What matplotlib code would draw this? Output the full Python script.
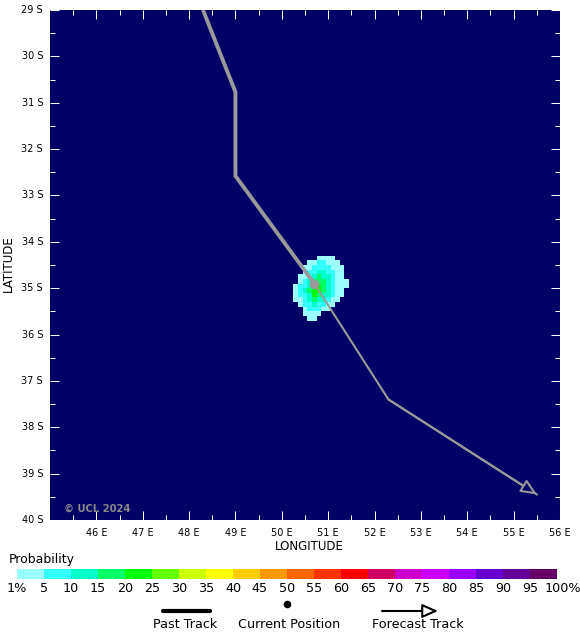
import numpy as np
import matplotlib
matplotlib.use('Agg')
import matplotlib.pyplot as plt
from matplotlib.colors import ListedColormap, BoundaryNorm
from matplotlib.cm import ScalarMappable
from matplotlib.transforms import ScaledTranslation

# 1. DATA
past_lon = [48.3, 49.0, 49.0, 50.7]
past_lat = [29.0, 30.77, 32.58, 34.9]
forecast_lon = [50.7, 52.3, 55.5]
forecast_lat = [34.9, 37.4, 39.45]
current_lon = 50.7
current_lat = 34.9

levels = [1, 5, 10, 15, 20, 25, 30, 35, 40, 45, 50, 55, 60, 65, 70, 75, 80, 85, 90, 95, 100]
level_labels = ['1%'] + [str(v) for v in levels[1:-1]] + ['100%']
level_colors = ['#99ffff', '#33ffff', '#00ffcc', '#00ff66', '#00ff00', '#66ff00', '#ccff00',
                '#ffff00', '#ffcc00', '#ff9900', '#ff6600', '#ff3300', '#ff0000', '#cc0066',
                '#cc00cc', '#cc00ff', '#9900ff', '#6600cc', '#660099', '#660066']

# strike probability, 0.1 degree cells
grid_lon = np.arange(50.25, 51.5, 0.1)
grid_lat = np.arange(34.3, 35.75, 0.1)
prob = np.array([
    [0, 0, 0, 0, 0, 3, 3, 3, 3, 0, 0, 0],
    [0, 0, 0, 3, 3, 7, 7, 3, 3, 3, 0, 0],
    [0, 0, 3, 3, 7, 7, 7, 7, 3, 3, 3, 0],
    [0, 0, 3, 7, 7, 12, 12, 7, 7, 3, 3, 0],
    [0, 3, 3, 7, 12, 17, 12, 12, 7, 3, 3, 0],
    [0, 3, 7, 12, 17, 17, 17, 12, 7, 3, 3, 3],
    [3, 7, 7, 12, 22, 22, 17, 12, 7, 3, 3, 3],
    [3, 7, 12, 17, 22, 22, 17, 12, 7, 3, 3, 0],
    [3, 7, 7, 12, 22, 17, 12, 12, 7, 3, 3, 0],
    [3, 3, 7, 12, 17, 12, 12, 7, 3, 3, 0, 0],
    [0, 3, 7, 7, 12, 7, 7, 3, 3, 0, 0, 0],
    [0, 0, 3, 7, 7, 7, 3, 3, 0, 0, 0, 0],
    [0, 0, 3, 3, 3, 3, 0, 0, 0, 0, 0, 0],
    [0, 0, 0, 3, 3, 0, 0, 0, 0, 0, 0, 0],
], dtype=float)

NAVY = '#000066'
GREY = '#999999'
W, H = 580, 639


def px_box(left, top, right, bottom):
    return [left / W, (H - bottom) / H, (right - left) / W, (bottom - top) / H]


# 2. MAP
fig = plt.figure(figsize=(W / 100, H / 100), dpi=100)
ax = fig.add_axes(px_box(50, 10, 560, 520))
ax.set_facecolor(NAVY)

cmap = ListedColormap(level_colors)
norm = BoundaryNorm(levels, cmap.N)
ax.pcolormesh(grid_lon, grid_lat, np.ma.masked_less(prob, 1), cmap=cmap, norm=norm)

ax.plot(past_lon, past_lat, color=GREY, lw=2.8, solid_joinstyle='miter', solid_capstyle='butt')
ax.plot(forecast_lon, forecast_lat, color=GREY, lw=1.5, solid_joinstyle='miter')
ax.annotate('', xy=(forecast_lon[-1], forecast_lat[-1]), xytext=(forecast_lon[-2], forecast_lat[-2]),
            arrowprops=dict(arrowstyle='-|>,head_length=0.95,head_width=0.42', edgecolor=GREY, lw=1.5,
                            facecolor=NAVY, shrinkA=0, shrinkB=0))
ax.plot(current_lon, current_lat, 'o', color=GREY, ms=7, mew=0)

ax.set_xlim(45, 56)
ax.set_ylim(40, 29)
ax.set_xticks(range(46, 57))
ax.set_xticklabels([f'{v} E' for v in range(46, 57)], fontsize=7)
ax.set_yticks(range(29, 41))
ax.set_yticklabels([f'{v} S' for v in range(29, 41)], fontsize=7)
ax.set_xticks(np.arange(45.5, 56, 1), minor=True)
ax.set_yticks(np.arange(29.5, 40, 1), minor=True)
ax.tick_params(which='major', direction='in', color='white', length=6.5, width=0.75,
               top=True, right=True, labelcolor='black')
ax.tick_params(axis='x', which='major', pad=6)
ax.tick_params(axis='y', which='major', pad=5)
ax.tick_params(which='minor', direction='in', color='white', length=3.6, width=0.75,
               top=True, right=True)
for spine in ax.spines.values():
    spine.set_visible(False)
for label in ax.get_yticklabels():
    label.set_transform(label.get_transform() + ScaledTranslation(0, 1 / 100, fig.dpi_scale_trans))

ax.text(14 / 510, 11.5 / 510, '© UCL 2024', transform=ax.transAxes, fontsize=7.2,
        fontweight='bold', color='#888888', va='center')

fig.text(309 / W, 1 - 546 / H, 'LONGITUDE', ha='center', va='center', fontsize=8.5)
fig.text(8 / W, 1 - 264 / H, 'LATITUDE', ha='center', va='center', rotation=90, fontsize=8.5)

# 3. COLOUR BAR
cax = fig.add_axes(px_box(17, 569, 557, 579))
cb = fig.colorbar(ScalarMappable(norm=norm, cmap=cmap), cax=cax, orientation='horizontal',
                  spacing='uniform', ticks=levels, drawedges=False)
cb.set_ticklabels(level_labels)
cb.minorticks_off()
cb.outline.set_visible(False)
cax.tick_params(length=0, labelsize=9.2, pad=2)
last = cax.get_xticklabels()[-1]
last.set_transform(last.get_transform() + ScaledTranslation(6 / 100, 0, fig.dpi_scale_trans))
fig.text(9 / W, 1 - 560 / H, 'Probability', ha='left', va='center', fontsize=9)

# 4. KEY
key = fig.add_axes([0, 0, 1, 1])
key.set_xlim(0, W)
key.set_ylim(H, 0)
key.axis('off')
key.patch.set_alpha(0)
key.plot([163, 210], [611, 611], color='black', lw=3, solid_capstyle='round')
key.plot(287, 604, 'o', color='black', ms=5.5, mew=0)
key.annotate('', xy=(438, 611), xytext=(382, 611),
             arrowprops=dict(arrowstyle='-|>,head_length=0.95,head_width=0.42', edgecolor='black', lw=1.5,
                             facecolor='white', shrinkA=0, shrinkB=0))
key.text(185, 624, 'Past Track', ha='center', va='center', fontsize=9.2)
key.text(289.5, 624, 'Current Position', ha='center', va='center', fontsize=9.2)
key.text(417.5, 624, 'Forecast Track', ha='center', va='center', fontsize=9.2)

fig.savefig('out.png', dpi=100)
